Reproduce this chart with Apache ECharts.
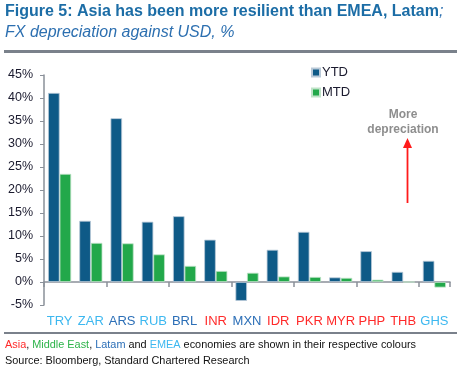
<!DOCTYPE html>
<html><head><meta charset="utf-8">
<script src="https://cdn.jsdelivr.net/npm/echarts@6/dist/echarts.min.js"></script>
<style>html,body{margin:0;padding:0;background:#fff}#c{width:466px;height:375px}</style>
</head><body><div id="c"></div>
<script>
const categories = ['TRY','ZAR','ARS','RUB','BRL','INR','MXN','IDR','PKR','MYR','PHP','THB','GHS'];
const regions = ['EMEA','EMEA','Latam','EMEA','Latam','Asia','Latam','Asia','Asia','Asia','Asia','Asia','EMEA'];
const ytd = [41.1, 13.3, 35.6, 13.1, 14.3, 9.2, -4.1, 7.0, 10.9, 1.0, 6.7, 2.2, 4.6];
const mtd = [23.5, 8.5, 8.4, 6.0, 3.5, 2.4, 2.0, 1.2, 1.1, 0.9, 0.5, 0.0, -1.2];
const yTicks = [-5, 0, 5, 10, 15, 20, 25, 30, 35, 40, 45];
const regionColors = {Asia:'#FF2A2A', 'Middle East':'#2DB34A', Latam:'#2C6FB7', EMEA:'#3DB8F0'};

const chart = echarts.init(document.getElementById('c'), null, {renderer:'canvas'});
const FF = 'Liberation Sans, Arial, sans-serif';
chart.setOption({
  animation:false,
  textStyle:{fontFamily:FF},
  grid:{left:44, right:16, top:75, bottom:70, containLabel:false},
  legend:{
    orient:'vertical', left:306, top:61, itemWidth:8, itemHeight:8, itemGap:7,
    icon:'rect', textStyle:{fontSize:13, color:'#1a1a2e', fontFamily:FF, padding:[0,0,0,-3]},
    data:['YTD','MTD']
  },
  xAxis:[{
    type:'category', data:categories, position:'bottom',
    axisLine:{onZero:true, lineStyle:{color:'#8a9099', width:1.5}},
    axisTick:{show:true, length:5, lineStyle:{color:'#8a9099', width:1.5}},
    axisLabel:{show:false}
  },{
    type:'category', data:categories, position:'bottom',
    axisLine:{show:false, onZero:false}, axisTick:{show:false},
    axisLabel:{show:true, interval:0, margin:10, fontSize:13, fontFamily:FF,
      color:function(v, i){ return regionColors[regions[categories.indexOf(v)]]; }}
  }],
  yAxis:{
    type:'value', min:yTicks[0], max:yTicks[yTicks.length-1], interval:5,
    axisLine:{show:true, lineStyle:{color:'#8a9099', width:1.5}},
    axisTick:{show:true, length:4, lineStyle:{color:'#8a9099'}},
    splitLine:{show:false},
    axisLabel:{fontSize:12.5, color:'#1a1a2e', margin:11, fontFamily:FF, formatter:v=>v+'%'}
  },
  series:[
    {name:'YTD', type:'bar', data:ytd, barGap:'0%', barCategoryGap:'26%',
      itemStyle:{color:'#0E5A87', borderColor:'#b9c9d8', borderWidth:0.8}},
    {name:'MTD', type:'bar', data:mtd,
      itemStyle:{color:'#22A84A', borderColor:'#bfe3c8', borderWidth:0.8}}
  ],
  graphic:[
    {type:'text', left:5, top:4, style:{rich:{
        b:{font:'bold 16px '+FF, fill:'#1C6DA6'},
        s:{font:'italic 16px '+FF, fill:'#2C6FB0'}
      }, text:'{b|Figure 5: Asia has been more resilient than EMEA, Latam}{s|;}'}},
    {type:'text', left:5, top:25, style:{text:'FX depreciation against USD, %', font:'italic 16px '+FF, fill:'#2C6FB0'}},
    {type:'rect', shape:{x:4, y:50, width:453, height:3}, style:{fill:'#7A818B'}},
    {type:'rect', shape:{x:4, y:332, width:453, height:2}, style:{fill:'#7A818B'}},
    {type:'text', x:403, y:107, style:{text:'More\ndepreciation', font:'bold 12px '+FF, fill:'#8E8E8E', align:'center', lineHeight:15}},
    {type:'line', shape:{x1:407.5, y1:203, x2:407.5, y2:146}, style:{stroke:'#FF1A1A', lineWidth:1.8}},
    {type:'polygon', shape:{points:[[407.5,138],[403,148],[412,148]]}, style:{fill:'#FF1A1A'}},
    {type:'text', left:5, top:339, style:{rich:{
        a:{fill:regionColors.Asia, font:'10.9px '+FF},
        m:{fill:regionColors['Middle East'], font:'10.9px '+FF},
        l:{fill:regionColors.Latam, font:'10.9px '+FF},
        e:{fill:regionColors.EMEA, font:'10.9px '+FF},
        k:{fill:'#111', font:'10.9px '+FF}
      }, text:'{a|Asia}{k|, }{m|Middle East}{k|, }{l|Latam}{k| and }{e|EMEA}{k| economies are shown in their respective colours}'}},
    {type:'text', left:5, top:355, style:{text:'Source: Bloomberg, Standard Chartered Research', font:'10.9px '+FF, fill:'#111'}}
  ]
});
</script>
</body></html>
